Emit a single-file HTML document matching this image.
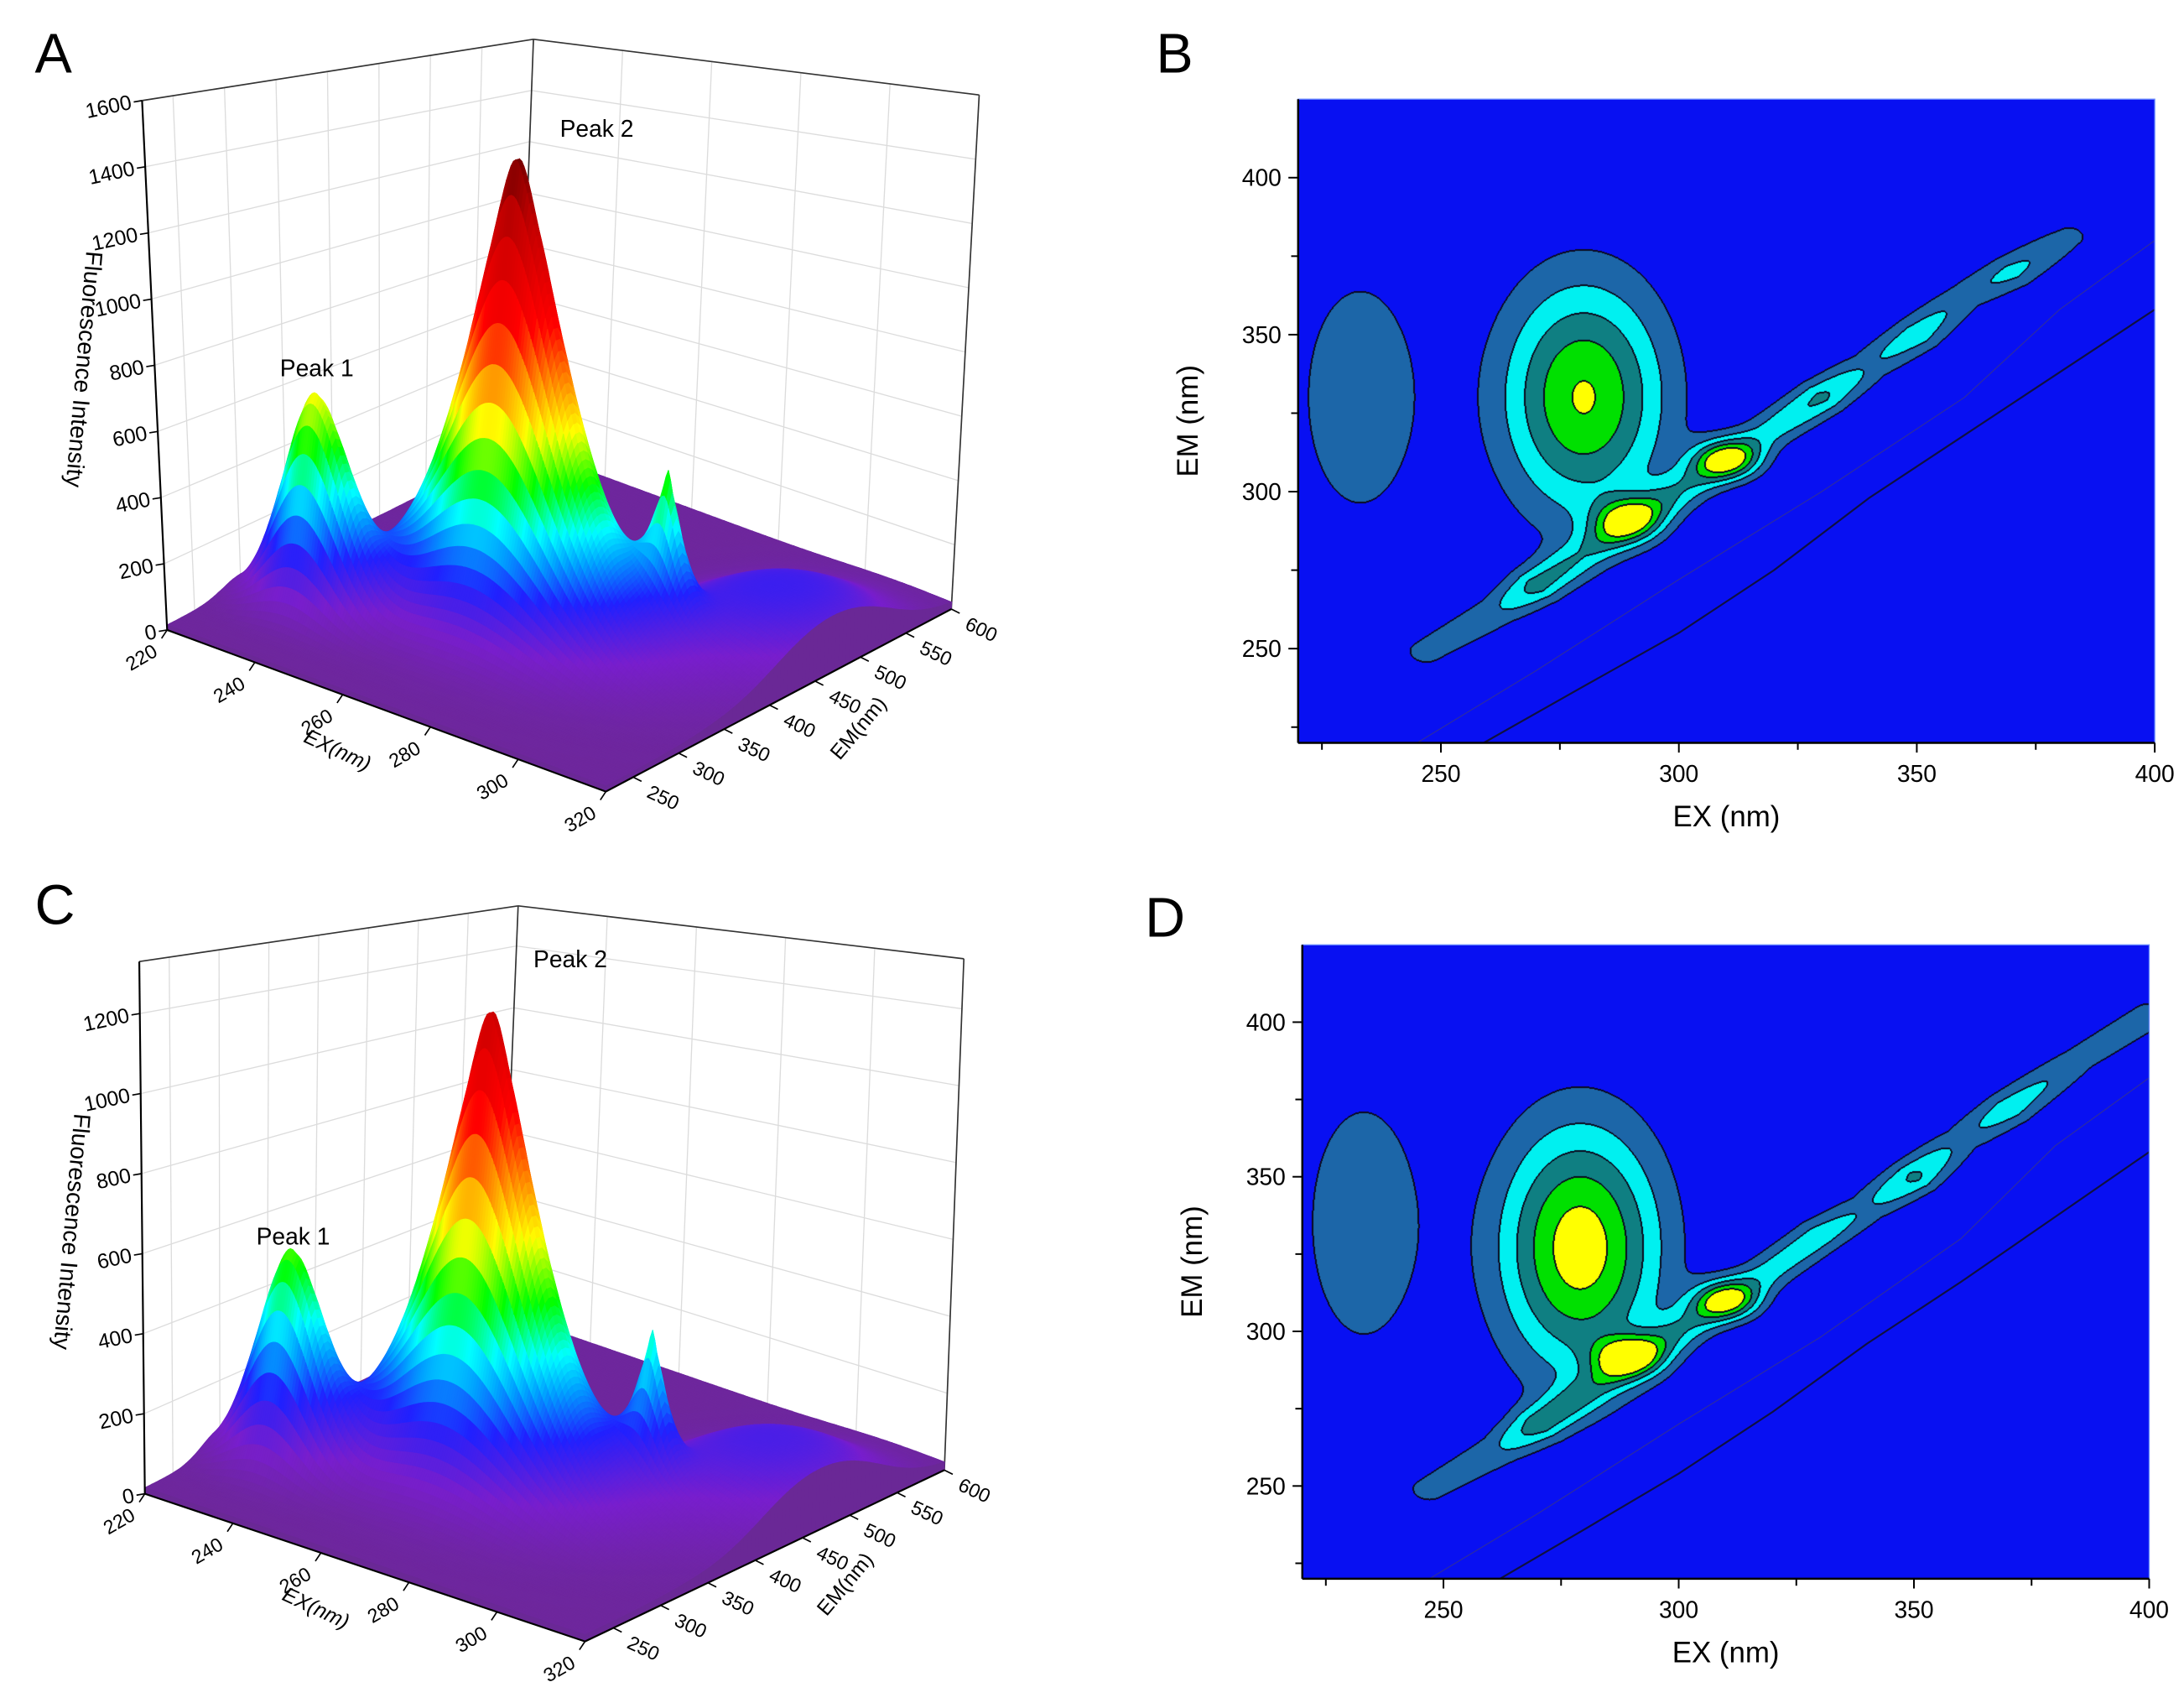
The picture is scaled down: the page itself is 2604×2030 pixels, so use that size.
<!DOCTYPE html>
<html><head><meta charset="utf-8">
<style>
html,body{margin:0;padding:0;background:#fff;}
#page{position:relative;width:2604px;height:2030px;overflow:hidden;background:#fff;font-family:"Liberation Sans",sans-serif;}
canvas{position:absolute;}
svg{position:absolute;left:0;top:0;}
</style></head>
<body>
<div id="page">
<canvas id="cB"></canvas>
<canvas id="cD"></canvas>
<svg id="fig" width="2604" height="2030" viewBox="0 0 1568 1222">
  <g id="gA"></g>
  <g id="gC"></g>
  <g id="gB"></g>
  <g id="gD"></g>
  <text x="25" y="52" font-size="40">A</text>
  <text x="830" y="52" font-size="40">B</text>
  <text x="25" y="663" font-size="40">C</text>
  <text x="822" y="672" font-size="40">D</text>
</svg>
</div>
<script>
// ---------- 3D surface data (panel A) ----------
const aPeakEx = [270, 238, 296, 308];
const aPeakEm = [362, 300, 400, 470];
const aPeakH  = [1500, 660, 380, 190];
const aPeakSx = [16, 10, 4, 22];
const aPeakSy = [34, 24, 12, 85];
const aPeakP  = [1.35, 1.8, 1.3, 2.5];
const aZTicks = [0, 200, 400, 600, 800, 1000, 1200, 1400, 1600];
// ---------- 3D surface data (panel C) ----------
const cPeakEx = [268, 236, 296, 308];
const cPeakEm = [358, 300, 400, 470];
const cPeakH  = [1260, 550, 330, 170];
const cPeakSx = [16, 10, 4, 22];
const cPeakSy = [34, 24, 12, 85];
const cPeakP  = [1.35, 1.8, 1.3, 2.5];
const cZTicks = [0, 200, 400, 600, 800, 1000, 1200];
const exTicks3d = [220, 240, 260, 280, 300, 320];
const exTickLabels3d = ['220', '240', '260', '280', '300', '320'];
const emTicks3d = [250, 300, 350, 400, 450, 500, 550, 600];
// ---------- contour data (panel B) ----------
const bBlobEx = [233, 280, 289, 310];
const bBlobEm = [330, 330, 291, 310];
const bBlobSx = [10, 12, 5, 5];
const bBlobSy = [31, 26, 5, 4.5];
const bBlobA  = [1.8, 5.1, 3.5, 4.1];
const bRidgeEx = [247, 262, 270, 280, 296, 318, 330, 340, 350, 360, 370, 382];
const bRidgeEm = [249, 262, 270, 280, 296, 318, 330, 340, 350, 362, 370, 381];
const bRidgeA  = [1.4, 1.8, 3.2, 2.2, 2.4, 2.3, 3.2, 1.8, 2.6, 1.6, 2.3, 1.3];
const bLine1Ex = [245, 270, 300, 330, 360, 380, 400];
const bLine1Em = [220, 243, 272, 300, 330, 358, 380];
const bLine2Ex = [259, 280, 300, 320, 340, 360, 380, 400];
const bLine2Em = [220, 238, 255, 275, 298, 318, 338, 358];
// ---------- contour data (panel D) ----------
const dBlobEx = [233, 279, 289, 310];
const dBlobEm = [335, 327, 292, 310];
const dBlobSx = [10, 12, 5, 5];
const dBlobSy = [33, 28, 4.5, 4.5];
const dBlobA  = [1.8, 5.6, 3.9, 3.9];
const dRidgeEx = [247, 262, 270, 282, 296, 318, 330, 340, 350, 360, 370, 385, 400];
const dRidgeEm = [249, 262, 270, 282, 296, 318, 331, 340, 350, 362, 372, 388, 402];
const dRidgeA  = [1.4, 1.8, 3.2, 2.2, 2.4, 2.4, 2.6, 1.8, 3.2, 1.6, 2.6, 1.5, 1.6];
const dLine1Ex = [247, 270, 300, 330, 360, 380, 400];
const dLine1Em = [220, 241, 270, 298, 330, 360, 382];
const dLine2Ex = [262, 280, 300, 320, 340, 360, 380, 400];
const dLine2Em = [220, 236, 254, 274, 296, 316, 337, 358];
const cTicksMajor = [250, 300, 350, 400];
const cTicksMinor = [225, 275, 325, 375];

const NS = 'http://www.w3.org/2000/svg';
const S = 2604 / 1568;
function mk(tag, attrs, parent) {
  const e = document.createElementNS(NS, tag);
  for (const k in attrs) e.setAttribute(k, attrs[k]);
  parent.appendChild(e);
  return e;
}

// ---------- 3D ----------
const stops = [[0,[108,40,150]],[120,[120,30,205]],[250,[32,32,255]],[350,[0,160,255]],[430,[0,255,255]],[550,[0,255,0]],[700,[255,255,0]],[850,[255,128,0]],[1000,[255,0,0]],[1300,[192,0,0]],[1500,[112,0,0]]];
function cmap(z) {
  if (z <= stops[0][0]) return 'rgb(' + stops[0][1].join(',') + ')';
  for (let i = 1; i < stops.length; i++) {
    if (z <= stops[i][0]) {
      const t = (z - stops[i-1][0]) / (stops[i][0] - stops[i-1][0]);
      const c = stops[i-1][1].map((v, j) => Math.round(v + (stops[i][1][j] - v) * t));
      return 'rgb(' + c.join(',') + ')';
    }
  }
  return 'rgb(' + stops[stops.length-1][1].join(',') + ')';
}
function makeProj(box, zmax) {
  return function (ex, em, z) {
    const a = (ex - 220) / 100, b = (em - 220) / 380, t = z / zmax;
    const w00 = (1-a)*(1-b), w10 = a*(1-b), w11 = a*b, w01 = (1-a)*b;
    const fx = w00*box.F00[0] + w10*box.F10[0] + w11*box.F11[0] + w01*box.F01[0];
    const fy = w00*box.F00[1] + w10*box.F10[1] + w11*box.F11[1] + w01*box.F01[1];
    const tx = w00*box.T00[0] + w10*box.T10[0] + w11*box.T11[0] + w01*box.T01[0];
    const ty = w00*box.T00[1] + w10*box.T10[1] + w11*box.T11[1] + w01*box.T01[1];
    return [fx + (tx - fx) * t, fy + (ty - fy) * t];
  };
}
function draw3D(g, box, zmax, zTicks, pex, pem, ph, psx, psy, pp, peakLabels) {
  const P = makeProj(box, zmax);
  const line = (p1, p2, col, w, name) => {
    const l = mk('line', {x1: p1[0], y1: p1[1], x2: p2[0], y2: p2[1], stroke: col, 'stroke-width': w}, g);
    
    
  };
  zTicks.forEach(z => {
    line(P(220, 220, z), P(220, 600, z), '#dcdcdc', 0.8, 'wall-gridline');
    line(P(220, 600, z), P(320, 600, z), '#dcdcdc', 0.8, 'wall-gridline');
  });
  emTicks3d.forEach(em => line(P(220, em, 0), P(220, em, zmax), '#dcdcdc', 0.8, 'wall-gridline'));
  exTicks3d.forEach(ex => line(P(ex, 600, 0), P(ex, 600, zmax), '#dcdcdc', 0.8, 'wall-gridline'));
  line(P(220, 220, zmax), P(220, 600, zmax), '#333', 1, 'box-edge');
  line(P(220, 600, zmax), P(320, 600, zmax), '#333', 1, 'box-edge');
  line(P(220, 600, 0), P(220, 600, zmax), '#333', 1, 'box-edge');
  line(P(320, 600, 0), P(320, 600, zmax), '#333', 1, 'box-edge');
  const field = (ex, em) => {
    let f = 15;
    for (let k = 0; k < pex.length; k++) {
      const r = Math.sqrt(((ex - pex[k]) / psx[k]) ** 2 + ((em - pem[k]) / psy[k]) ** 2);
      f += ph[k] * Math.exp(-Math.pow(r, pp[k]));
    }
    return f;
  };
  const exs = [], ems = [];
  for (let x = 220; x <= 320.01; x += 0.5) exs.push(x);
  for (let y = 220; y <= 600.01; y += 4) ems.push(y);
  const Z = exs.map(x => ems.map(y => field(x, y)));
  const sg = mk('g', {}, g);
  
  
  for (let i = 0; i < exs.length - 1; i++) {
    for (let j = ems.length - 2; j >= 0; j--) {
      const pts = [P(exs[i], ems[j], Z[i][j]), P(exs[i+1], ems[j], Z[i+1][j]), P(exs[i+1], ems[j+1], Z[i+1][j+1]), P(exs[i], ems[j+1], Z[i][j+1])];
      const zavg = (Z[i][j] + Z[i+1][j] + Z[i+1][j+1] + Z[i][j+1]) / 4;
      const c = cmap(zavg);
      const pg = mk('polygon', {points: pts.map(p => p[0].toFixed(1) + ',' + p[1].toFixed(1)).join(' '), fill: c, stroke: c, 'stroke-width': 0.5}, sg);
      
      
    }
  }
  const nI = exs.length - 1;
  for (let j = 0; j < ems.length - 1; j++) {
    const pts = [P(320, ems[j], 0), P(320, ems[j+1], 0), P(320, ems[j+1], Z[nI][j+1]), P(320, ems[j], Z[nI][j])];
    const sk = mk('polygon', {points: pts.map(p => p[0].toFixed(1) + ',' + p[1].toFixed(1)).join(' '), fill: '#6a2896', stroke: '#6a2896', 'stroke-width': 0.6}, sg);
    
    
  }
  for (let i = 0; i < exs.length - 1; i += 4) {
    const i2 = Math.min(i + 4, exs.length - 1);
    const pts = [P(exs[i], 220, 0), P(exs[i2], 220, 0), P(exs[i2], 220, Z[i2][0]), P(exs[i], 220, Z[i][0])];
    const sk = mk('polygon', {points: pts.map(p => p[0].toFixed(1) + ',' + p[1].toFixed(1)).join(' '), fill: '#6a2896', stroke: '#6a2896', 'stroke-width': 0.6}, sg);
    
    
  }
  line(P(220, 220, 0), P(220, 220, zmax), '#000', 1.3, 'z-axis');
  line(P(220, 220, 0), P(320, 220, 0), '#000', 1.3, 'ex-axis');
  line(P(320, 220, 0), P(320, 600, 0), '#000', 1.3, 'em-axis');
  zTicks.forEach(z => {
    const p = P(220, 220, z);
    line(p, [p[0] - 6, p[1] + 1], '#000', 1, 'z-tick');
    const t = mk('text', {x: p[0] - 8, y: p[1] + 6, 'font-size': 15, 'text-anchor': 'end', transform: 'rotate(-12 ' + (p[0]-8) + ' ' + p[1] + ')'}, g);
    t.textContent = String(z);
    
    
  });
  exTicks3d.forEach((ex, k) => {
    const p = P(ex, 220, 0);
    line(p, [p[0] - 4, p[1] + 6], '#000', 1, 'ex-tick');
    const t = mk('text', {x: p[0] - 6, y: p[1] + 18, 'font-size': 14, 'text-anchor': 'end', transform: 'rotate(-30 ' + (p[0]-6) + ' ' + (p[1]+18) + ')'}, g);
    t.textContent = exTickLabels3d[k];
    
    
  });
  emTicks3d.forEach(em => {
    const p = P(320, em, 0);
    line(p, [p[0] + 6, p[1] + 3], '#000', 1, 'em-tick');
    const t = mk('text', {x: p[0] + 9, y: p[1] + 14, 'font-size': 14, transform: 'rotate(25 ' + (p[0]+9) + ' ' + (p[1]+14) + ')'}, g);
    t.textContent = String(em);
    
    
  });
  const pe = P(262, 220, 0);
  const tx = mk('text', {x: pe[0] - 12, y: pe[1] + 42, 'font-size': 15, 'font-style': 'italic', 'text-anchor': 'middle', transform: 'rotate(25 ' + (pe[0]-12) + ' ' + (pe[1]+42) + ')'}, g);
  tx.textContent = 'EX(nm)';
  
  
  const pm = P(320, 430, 0);
  const tm = mk('text', {x: pm[0] + 48, y: pm[1] + 30, 'font-size': 15, 'text-anchor': 'middle', transform: 'rotate(-50 ' + (pm[0]+48) + ' ' + (pm[1]+30) + ')'}, g);
  tm.textContent = 'EM(nm)';
  
  
  const pz = P(220, 220, zmax * 0.52);
  const tz = mk('text', {x: pz[0] - 56, y: pz[1] + 10, 'font-size': 17, 'text-anchor': 'middle', transform: 'rotate(95 ' + (pz[0]-56) + ' ' + (pz[1]+10) + ')'}, g);
  tz.textContent = 'Fluorescence Intensity';
  
  
  peakLabels.forEach((pl, k) => {
    const t = mk('text', {x: pl[0], y: pl[1], 'font-size': 17}, g);
    t.textContent = 'Peak ' + (k + 1);
    
    
  });
}
draw3D(document.getElementById('gA'),
  {F00:[120,452],F10:[435,568],F11:[683,437],F01:[372,322],T00:[102,72],T10:[437,148],T11:[703,68],T01:[383,28]},
  1600, aZTicks, aPeakEx, aPeakEm, aPeakH, aPeakSx, aPeakSy, aPeakP, [[201,270],[402,98]]);
draw3D(document.getElementById('gC'),
  {F00:[104,1072],F10:[420,1178],F11:[678,1055],F01:[360,945],T00:[100,690],T10:[422,760],T11:[692,688],T01:[372,650]},
  1330, cZTicks, cPeakEx, cPeakEm, cPeakH, cPeakSx, cPeakSy, cPeakP, [[184,893],[383,694]]);

// ---------- contour ----------
const levelCols = [[8,16,242],[28,102,168],[0,240,240],[15,127,130],[0,224,0],[255,255,0]];
function drawContour(cid, g, x1, y1, x2, y2, bex, bem, bsx, bsy, ba, rex, rem, ra, l1x, l1y, l2x, l2y) {
  const cv = document.getElementById(cid);
  const W = Math.round((x2 - x1) * S), H = Math.round((y2 - y1) * S);
  cv.width = W; cv.height = H;
  cv.style.left = (x1 * S) + 'px'; cv.style.top = (y1 * S) + 'px';
  cv.style.width = W + 'px'; cv.style.height = H + 'px';
  const ctx = cv.getContext('2d');
  const lev = new Uint8Array(W * H);
  for (let j = 0; j < H; j++) {
    const em = 425 - (j + 0.5) / H * 205;
    for (let i = 0; i < W; i++) {
      const ex = 220 + (i + 0.5) / W * 180;
      let f = 0;
      for (let k = 0; k < bex.length; k++) {
        const dx = (ex - bex[k]) / bsx[k], dy = (em - bem[k]) / bsy[k];
        f += ba[k] * Math.exp(-0.5 * (dx * dx + dy * dy));
      }
      let rm = 0;
      for (let k = 0; k < rex.length - 1; k++) {
        const ax = rex[k], ay = rem[k], bx = rex[k+1], by = rem[k+1];
        const vx = bx - ax, vy = by - ay, L = vx * vx + vy * vy;
        let t = ((ex - ax) * vx + (em - ay) * vy) / L;
        t = Math.max(0, Math.min(1, t));
        const px = ax + vx * t - ex, py = ay + vy * t - em;
        const d2 = px * px + py * py;
        const amp = ra[k] + (ra[k+1] - ra[k]) * t;
        const v = amp * Math.exp(-0.5 * d2 / 16);
        if (v > rm) rm = v;
      }
      f += rm;
      let l = 0;
      for (let q = 1; q <= 5; q++) if (f >= q) l = q;
      lev[j * W + i] = l;
    }
  }
  const img = ctx.createImageData(W, H);
  for (let j = 0; j < H; j++) for (let i = 0; i < W; i++) {
    const idx = j * W + i, l = lev[idx];
    let edge = false;
    if (i > 0 && lev[idx-1] !== l) edge = true;
    if (i < W-1 && lev[idx+1] !== l) edge = true;
    if (j > 0 && lev[idx-W] !== l) edge = true;
    if (j < H-1 && lev[idx+W] !== l) edge = true;
    const c = edge ? [10,10,30] : levelCols[l];
    img.data[idx*4] = c[0]; img.data[idx*4+1] = c[1]; img.data[idx*4+2] = c[2]; img.data[idx*4+3] = 255;
  }
  ctx.putImageData(img, 0, 0);
  const X = ex => x1 + (ex - 220) / 180 * (x2 - x1);
  const Y = em => y2 - (em - 220) / 205 * (y2 - y1);
  const p1 = mk('polyline', {points: l1x.map((v, k) => X(v) + ',' + Y(l1y[k])).join(' '), fill: 'none', stroke: '#2a2aa8', 'stroke-width': 0.8}, g);
  
  
  const p2 = mk('polyline', {points: l2x.map((v, k) => X(v) + ',' + Y(l2y[k])).join(' '), fill: 'none', stroke: '#101040', 'stroke-width': 1.3}, g);
  
  
  const fr = mk('rect', {x: x1, y: y1, width: x2 - x1, height: y2 - y1, fill: 'none', stroke: '#6a8cff', 'stroke-width': 0.8}, g);
  
  
  const ax1 = mk('line', {x1: x1, y1: y1, x2: x1, y2: y2, stroke: '#000', 'stroke-width': 1.5}, g);
  
  
  const ax2 = mk('line', {x1: x1, y1: y2, x2: x2, y2: y2, stroke: '#000', 'stroke-width': 1.5}, g);
  
  
  cTicksMajor.concat(cTicksMinor).forEach(v => {
    const major = cTicksMajor.indexOf(v) >= 0;
    const ty = mk('line', {x1: x1, y1: Y(v), x2: x1 - (major ? 7 : 5), y2: Y(v), stroke: '#000', 'stroke-width': 1.2}, g);
    
    
    const tx = mk('line', {x1: X(v), y1: y2, x2: X(v), y2: y2 + (major ? 7 : 5), stroke: '#000', 'stroke-width': 1.2}, g);
    
    
    if (major) {
      const ly = mk('text', {x: x1 - 12, y: Y(v) + 6, 'font-size': 17, 'text-anchor': 'end'}, g);
      ly.textContent = String(v);
      
      
      const lx = mk('text', {x: X(v), y: y2 + 28, 'font-size': 17, 'text-anchor': 'middle'}, g);
      lx.textContent = String(v);
      
      
    }
  });
  const xt = mk('text', {x: (x1 + x2) / 2, y: y2 + 60, 'font-size': 21, 'text-anchor': 'middle'}, g);
  xt.textContent = 'EX (nm)';
  
  
  const yc = (y1 + y2) / 2;
  const yt = mk('text', {x: x1 - 72, y: yc, 'font-size': 21, 'text-anchor': 'middle', transform: 'rotate(-90 ' + (x1 - 72) + ' ' + yc + ')'}, g);
  yt.textContent = 'EM (nm)';
  
  
}
drawContour('cB', document.getElementById('gB'), 932, 71, 1547, 533, bBlobEx, bBlobEm, bBlobSx, bBlobSy, bBlobA, bRidgeEx, bRidgeEm, bRidgeA, bLine1Ex, bLine1Em, bLine2Ex, bLine2Em);
drawContour('cD', document.getElementById('gD'), 935, 678, 1543, 1133, dBlobEx, dBlobEm, dBlobSx, dBlobSy, dBlobA, dRidgeEx, dRidgeEm, dRidgeA, dLine1Ex, dLine1Em, dLine2Ex, dLine2Em);
</script>
</body></html>
